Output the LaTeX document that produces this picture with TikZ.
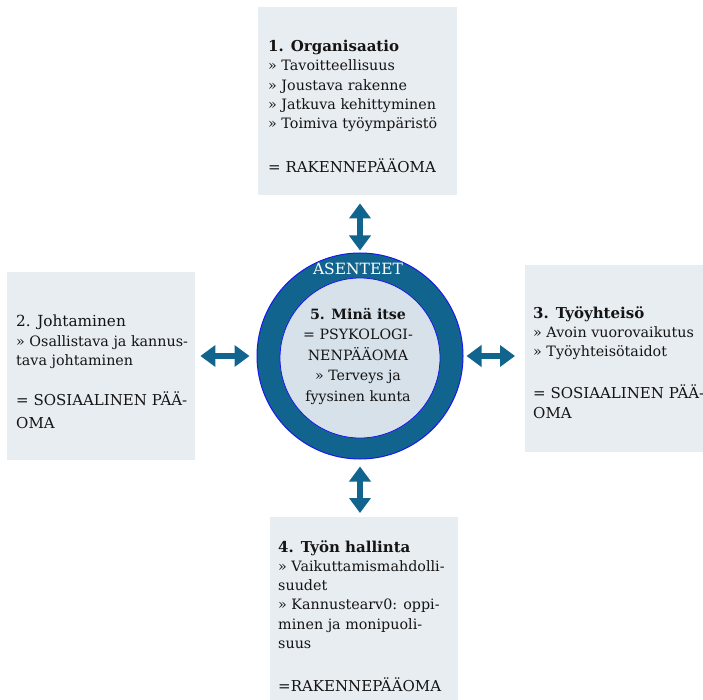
\documentclass[tikz,border=0pt]{standalone}
\usepackage{fontspec}
\setmainfont{DejaVu Serif}
\usetikzlibrary{arrows.meta}
\definecolor{ringc}{RGB}{17,100,141}
\definecolor{ringline}{RGB}{25,25,235}
\definecolor{boxc}{RGB}{232,237,242}
\definecolor{innerc}{RGB}{215,225,234}
\definecolor{txtc}{RGB}{20,20,20}
\newcommand\myTitle{\fontsize{15}{19}\selectfont\bfseries}
\newcommand\myTitleReg{\fontsize{15.3}{19}\selectfont}
\newcommand\myBig{\fontsize{15}{19}\selectfont}
\begin{document}
\begin{tikzpicture}[x=1pt,y=-1pt,
  boxshape/.style={fill=boxc, draw=none, inner sep=0pt, anchor=north west},
  txt/.style={align=left, inner sep=0pt, anchor=north west, text=txtc, font=\fontsize{14.3}{19.3}\selectfont},
  ctxt/.style={align=center, inner sep=0pt, anchor=north, text=txtc, font=\fontsize{14.2}{20.5}\selectfont},
  arr/.style={line width=6pt, draw=ringc, {Triangle[width=21pt,length=15pt]}-{Triangle[width=21pt,length=15pt]}}
]
\useasboundingbox (0,0) rectangle (703,700);
\fill[white] (0,0) rectangle (703,700);

% boxes
\node[boxshape, minimum width=199pt, minimum height=188pt] (b1) at (258,7) {};
\node[boxshape, minimum width=188pt, minimum height=188pt] (b2) at (7,272) {};
\node[boxshape, minimum width=178pt, minimum height=187pt] (b3) at (525,265) {};
\node[boxshape, minimum width=188pt, minimum height=183pt] (b4) at (270,517) {};

% box texts
\node[txt] (t1) at (268,40) {{\myTitle 1. Organisaatio}\\
» Tavoitteellisuus\\
» Joustava rakenne\\
» Jatkuva kehittyminen\\
» Toimiva työympäristö\\[24.5pt]
{\myBig = RAKENNEPÄÄOMA}};

\node[txt] (t2) at (16,315) {{\myTitleReg 2. Johtaminen}\\
» Osallistava ja kannus-\\
tava johtaminen\\[21pt]
{\myBig = SOSIAALINEN PÄÄ-}\\[3pt]
{\myBig OMA}};

\node[txt] (t3) at (533,306) {{\myTitle 3. Työyhteisö}\\
» Avoin vuorovaikutus\\
» Työyhteisötaidot\\[22.5pt]
{\myBig = SOSIAALINEN PÄÄ-}\\[0.7pt]
{\myBig OMA}};

\node[txt] (t4) at (278,540) {{\myTitle 4. Työn hallinta}\\
» Vaikuttamismahdolli-\\
suudet\\
» Kannustearv0: oppi-\\
minen ja monipuoli-\\
suus\\[24pt]
{\myBig =RAKENNEPÄÄOMA}};

% central circle
\node[circle, minimum size=206pt, inner sep=0pt, fill=ringc, draw=ringline, line width=1pt] (ring) at (360,356) {};
\node[circle, minimum size=160pt, inner sep=0pt, fill=innerc, draw=ringline, line width=0.8pt] (inner) at (360,358) {};
\node[text=white, inner sep=0pt, anchor=base, font=\fontsize{15.5}{18}\selectfont] (asen) at (358,275) {ASENTEET};
\node[ctxt] (ct) at (358,308) {{\bfseries 5. Minä itse}\\
= PSYKOLOGI-\\
NENPÄÄOMA\\
» Terveys ja\\
fyysinen kunta};

% arrows
\draw[arr, shorten <=2pt, shorten >=8pt] (ring.north) -- (ring.north |- b1.south);
\draw[arr, shorten <=7pt, shorten >=5pt] (ring.west) -- (ring.west -| b2.east);
\draw[arr, shorten <=3pt, shorten >=10pt] (ring.east) -- (ring.east -| b3.west);
\draw[arr, shorten <=7pt, shorten >=4pt] (ring.south) -- (ring.south |- b4.north);
\end{tikzpicture}
\end{document}
